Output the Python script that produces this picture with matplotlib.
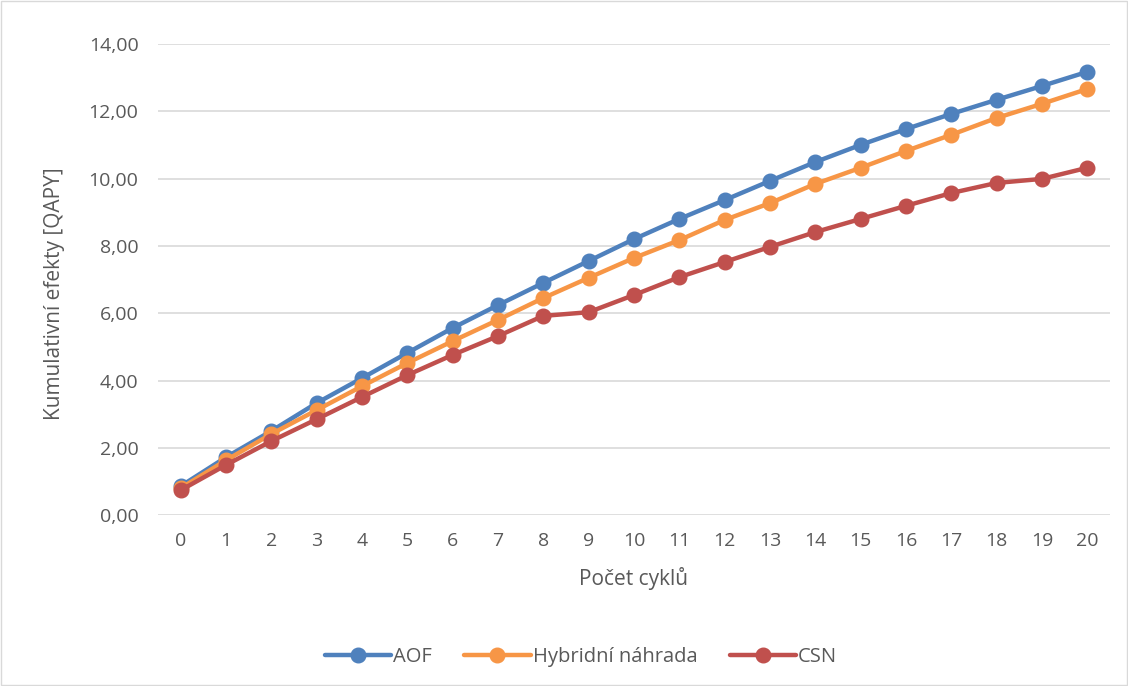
import matplotlib
matplotlib.use("Agg")
import matplotlib.pyplot as plt
from matplotlib.patches import Rectangle

cycles = list(range(0, 21))
aof = [0.86, 1.72, 2.50, 3.33, 4.07, 4.82, 5.56, 6.24, 6.90, 7.55, 8.20,
       8.80, 9.36, 9.93, 10.49, 11.00, 11.47, 11.92, 12.34, 12.75, 13.17]
hybrid = [0.80, 1.63, 2.41, 3.12, 3.83, 4.52, 5.17, 5.80, 6.45, 7.05, 7.64,
          8.17, 8.77, 9.27, 9.84, 10.32, 10.82, 11.30, 11.80, 12.22, 12.66]
csn = [0.74, 1.49, 2.20, 2.85, 3.51, 4.16, 4.76, 5.32, 5.92, 6.03, 6.54,
       7.07, 7.52, 7.97, 8.41, 8.80, 9.19, 9.57, 9.87, 9.99, 10.32]
series_names = ["AOF", "Hybridní náhrada", "CSN"]
colors = ["#4F81BD", "#F79646", "#C0504D"]
yticks = [0, 2, 4, 6, 8, 10, 12, 14]

plt.rcParams['font.family'] = ['Open Sans', 'DejaVu Sans']

fig = plt.figure(figsize=(11.28, 6.86), dpi=100)
ax = fig.add_axes([0.140, 0.249, 0.844, 0.687])

for vals, name, c in zip([aof, hybrid, csn], series_names, colors):
    ax.plot(cycles, vals, color=c, lw=3.2, marker='o', markersize=10.5,
            label=name, solid_capstyle='round', zorder=3)

ax.set_xlim(-0.5, 20.5)
ax.set_ylim(0, 14)
ax.set_yticks(yticks)
ax.set_yticklabels([f"{v:.2f}".replace('.', ',') for v in yticks])
ax.set_xticks(cycles)
ax.set_xticklabels([str(c) for c in cycles])
ax.grid(axis='y', color='#D9D9D9', lw=1.2)
ax.set_axisbelow(True)
for s in ax.spines.values():
    s.set_visible(False)
ax.tick_params(axis='x', length=0, labelsize=14, colors='#595959', pad=12)
ax.tick_params(axis='y', length=0, labelsize=14, colors='#595959', pad=14)

ax.set_xlabel("Počet cyklů", fontsize=15, color='#595959', labelpad=12)
ax.set_ylabel("Kumulativní efekty [QAPY]", fontsize=15, color='#595959', labelpad=14)
ax.yaxis.set_label_coords(-0.098, 0.47)

leg = fig.legend(loc='center', bbox_to_anchor=(0.515, 0.042), ncol=3, frameon=False,
                 fontsize=14.5, labelcolor='#595959', handlelength=3.3,
                 columnspacing=1.6, handletextpad=0.1)

fig.patches.append(Rectangle((0.001, 0.001), 0.998, 0.997, transform=fig.transFigure,
                             fill=False, edgecolor='#D9D9D9', lw=1))

fig.savefig("out.png", dpi=100)
